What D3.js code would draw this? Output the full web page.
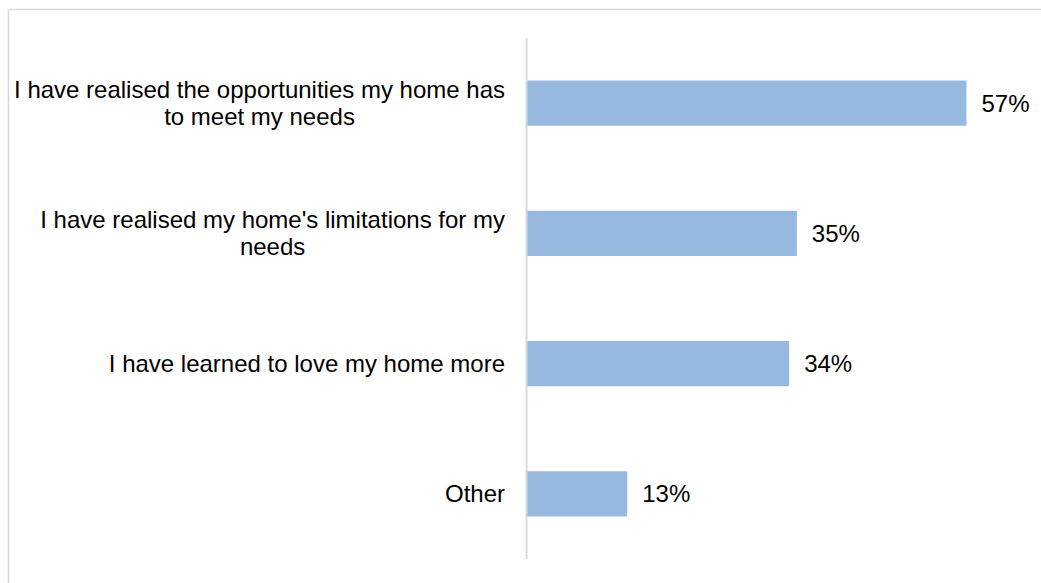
<!DOCTYPE html>
<html>
<head>
<meta charset="utf-8">
<script src="https://cdn.jsdelivr.net/npm/d3@7"></script>
<style>
  html, body { margin: 0; padding: 0; background: #ffffff; }
  svg { display: block; }
  text { font-family: "Liberation Sans", Arial, sans-serif; fill: #000000; }
</style>
</head>
<body>
<script>
// Survey responses: how the home is seen now
const categories = [
  ["I have realised the opportunities my home has", "to meet my needs"],
  ["I have realised my home's limitations for my", "needs"],
  ["I have learned to love my home more"],
  ["Other"]
];
const values = [57, 35, 34, 13];
const valueLabels = ["57%", "35%", "34%", "13%"];

const width = 1041, height = 583;
const fontSize = 24;
const svg = d3.select("body").append("svg")
  .attr("width", width).attr("height", height);

// Chart frame (top and left edges visible)
svg.append("line").attr("x1", 8.5).attr("x2", width).attr("y1", 9.5).attr("y2", 9.5)
  .attr("stroke", "#d9d9d9").attr("stroke-width", 1.5);
svg.append("line").attr("x1", 8.5).attr("x2", 8.5).attr("y1", 9.5).attr("y2", height)
  .attr("stroke", "#d9d9d9").attr("stroke-width", 1.5);

const x0 = 527;
const x = d3.scaleLinear().domain([0, 60]).range([x0, x0 + 60 * 7.71]);
const y = d3.scaleBand()
  .domain(d3.range(categories.length))
  .range([38, 559])
  .paddingInner(0.653)
  .paddingOuter(0.3265);

// Bars
svg.append("g").selectAll("rect")
  .data(values)
  .join("rect")
  .attr("x", x(0))
  .attr("y", (d, i) => y(i))
  .attr("width", d => x(d) - x(0))
  .attr("height", y.bandwidth())
  .attr("fill", "#97b9e0");

// Category axis line
svg.append("line")
  .attr("x1", x0 - 0.5).attr("x2", x0 - 0.5)
  .attr("y1", 38).attr("y2", 559)
  .attr("stroke", "#d9d9d9").attr("stroke-width", 2);

// Value labels
svg.append("g").selectAll("text")
  .data(values)
  .join("text")
  .attr("x", d => x(d) + 15)
  .attr("y", (d, i) => y(i) + y.bandwidth() / 2)
  .attr("dy", "0.35em")
  .attr("font-size", fontSize)
  .text((d, i) => valueLabels[i]);

// Category labels: wrapped lines centred within a right-aligned block
const labelRight = 505;
const lineH = 27;
const cat = svg.append("g");
categories.forEach((lines, i) => {
  const cy = y(i) + y.bandwidth() / 2;
  const g = cat.append("g");
  const texts = lines.map((ln, j) => g.append("text")
    .attr("font-size", fontSize)
    .attr("dy", "0.35em")
    .attr("y", cy + (j - (lines.length - 1) / 2) * lineH)
    .text(ln));
  const maxW = d3.max(texts, t => t.node().getComputedTextLength());
  texts.forEach(t => t.attr("text-anchor", "middle").attr("x", labelRight - maxW / 2));
});
</script>
</body>
</html>
